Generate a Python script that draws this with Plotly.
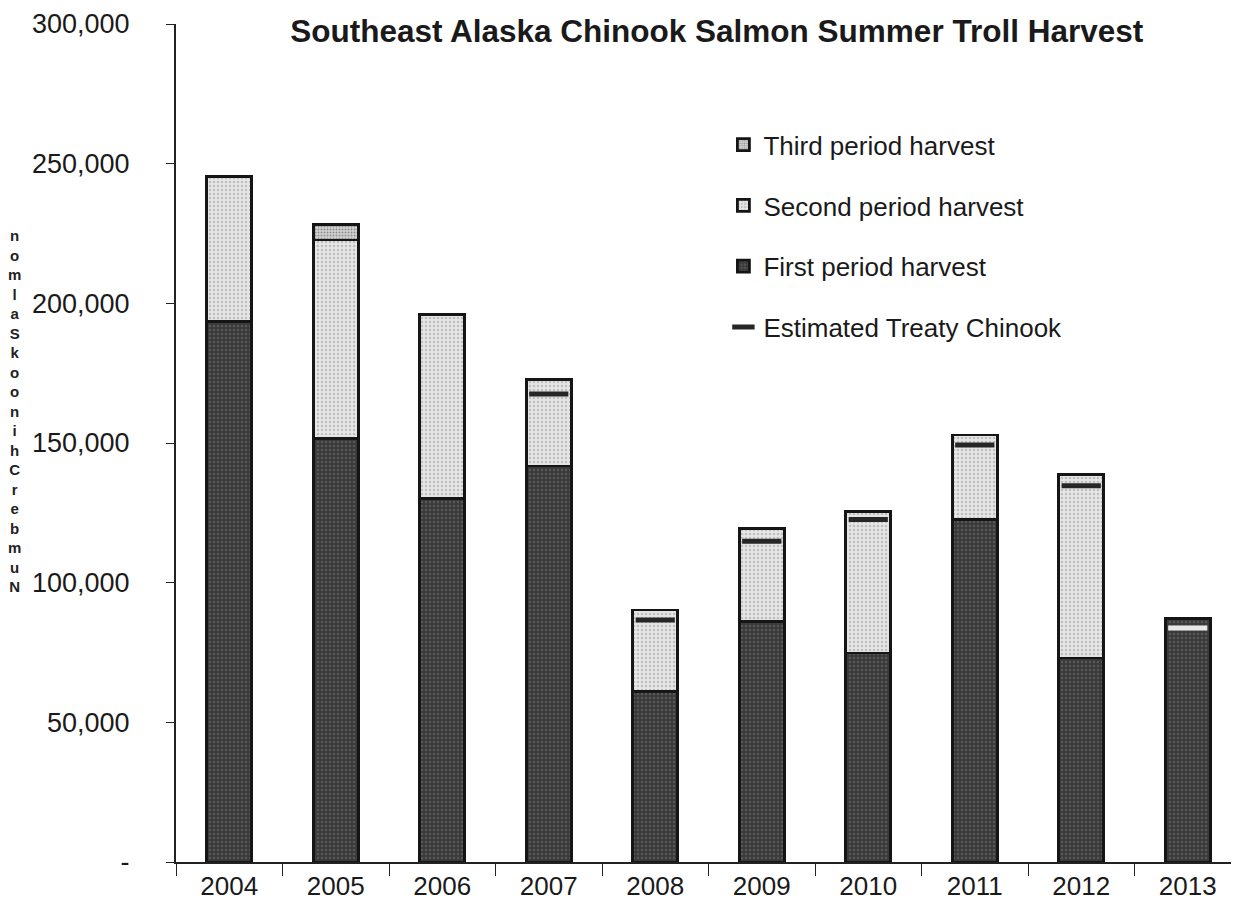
import plotly.graph_objects as go

years = ["2004", "2005", "2006", "2007", "2008", "2009", "2010", "2011", "2012", "2013"]
first_period = [193500, 151500, 130000, 141800, 60900, 86200, 74800, 122600, 73000, 87300]
second_period = [52000, 71200, 66100, 30800, 29300, 33200, 50700, 30300, 65600, 0]
third_period = [0, 5500, 0, 0, 0, 0, 0, 0, 0, 0]
treaty_chinook = [None, None, None, 167500, 86600, 114800, 122600, 149300, 134700, 83800]

y_ticks = [0, 50000, 100000, 150000, 200000, 250000, 300000]
y_tick_text = ["-", "50,000", "100,000", "150,000", "200,000", "250,000", "300,000"]
y_title = "Number Chinook Salmon"

FONT = "Liberation Sans, Arial, sans-serif"
EDGE = dict(color="#151515", width=2.8)

fig = go.Figure()
fig.add_bar(
    x=years, y=first_period, name="First period harvest", legendrank=3, legendgroup="a",
    marker=dict(color="#3a3a3a", line=EDGE,
                pattern=dict(shape=".", fgcolor="#767676", size=4, solidity=0.3)),
)
fig.add_bar(
    x=years, y=second_period, name="Second period harvest", legendrank=2, legendgroup="b",
    marker=dict(color="#e6e6e6", line=EDGE,
                pattern=dict(shape=".", fgcolor="#959595", size=4, solidity=0.3)),
)
fig.add_bar(
    x=years, y=third_period, name="Third period harvest", legendrank=1, legendgroup="c",
    marker=dict(color="#d6d6d6", line=EDGE,
                pattern=dict(shape=".", fgcolor="#4a4a4a", size=3, solidity=0.4)),
)
fig.add_scatter(
    x=years, y=treaty_chinook, mode="markers", name="Estimated Treaty Chinook",
    legendrank=4, legendgroup="d",
    marker=dict(symbol="line-ew", size=28,
                line=dict(width=5, color=["#262626"] * 9 + ["#e8e8e8"])),
)

fig.update_layout(
    width=1239, height=915,
    barmode="stack", bargap=0.58,
    plot_bgcolor="white", paper_bgcolor="white",
    margin=dict(l=168, r=6, t=16, b=61, autoexpand=False),
    font=dict(family=FONT, size=26, color="#1a1a1a"),
    title=dict(text="<b>Southeast Alaska Chinook Salmon Summer Troll Harvest</b>",
               x=0.572, xanchor="center", y=0.975, yanchor="middle",
               font=dict(size=31.5, color="#1a1a1a")),
    legend=dict(x=0.514, y=0.884, xanchor="left", yanchor="top", tracegroupgap=24,
                font=dict(size=26), bgcolor="rgba(0,0,0,0)"),
    showlegend=True,
)
fig.update_xaxes(
    type="category", range=[-0.5, 9.5], showline=True, linecolor="#222", linewidth=2,
    ticks="outside", tickson="boundaries", ticklen=12, tickcolor="#222",
    tickfont=dict(size=26), tickangle=0, showgrid=False,
)
fig.update_yaxes(
    range=[0, 300000], tickvals=y_ticks, ticktext=y_tick_text,
    showline=True, linecolor="#222", linewidth=2, ticks="outside", ticklen=8,
    tickcolor="#222", ticklabelstandoff=31, ticklabeloverflow="allow",
    showgrid=False, zeroline=False, tickfont=dict(size=27),
)

# stacked, mirrored axis title as in the scanned original
fig.add_annotation(
    text="<b>" + "<br>".join(reversed(y_title.replace(" ", ""))) + "</b>",
    xref="paper", yref="paper", x=-0.152, y=0.538, xanchor="center", yanchor="middle",
    showarrow=False, font=dict(size=15, color="#222"),
)

fig.write_html("out.html")
